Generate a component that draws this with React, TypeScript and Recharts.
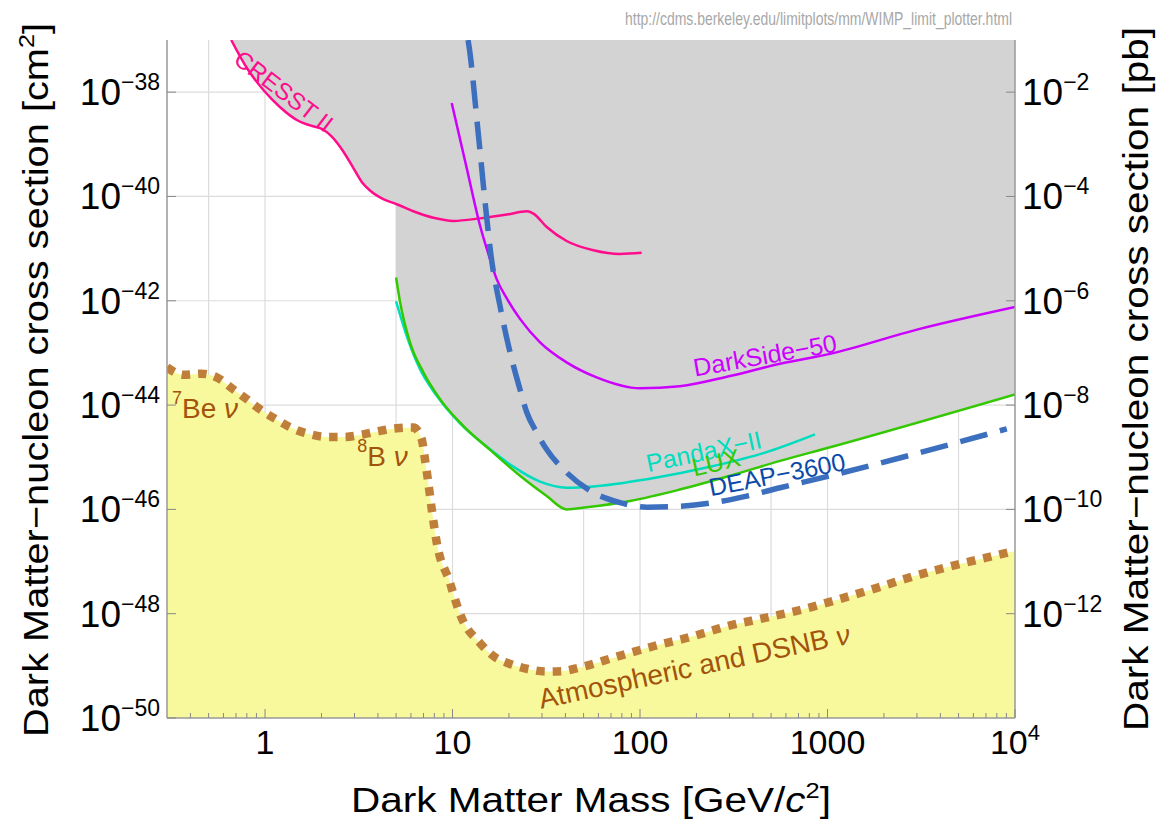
import React from 'react';
import {
  ComposedChart,
  Area,
  Line,
  XAxis,
  YAxis,
  CartesianGrid,
  ReferenceDot,
  Customized,
} from 'recharts';

type Pt = { m: number; s: number };

// mass in GeV/c^2, cross section in cm^2
const cresst: Pt[] = [
  { m: 0.66, s: 1.0e-37 }, { m: 0.8, s: 2.9e-38 }, { m: 0.98, s: 1.1e-38 }, { m: 1.2, s: 5.2e-39 },
  { m: 1.51, s: 2.8e-39 }, { m: 1.74, s: 2.3e-39 }, { m: 2.05, s: 1.9e-39 }, { m: 2.27, s: 1.4e-39 },
  { m: 2.62, s: 7.2e-40 }, { m: 2.96, s: 3.5e-40 }, { m: 3.28, s: 1.9e-40 }, { m: 3.63, s: 1.3e-40 },
  { m: 4.27, s: 8.9e-41 }, { m: 5.04, s: 7.1e-41 }, { m: 6.18, s: 5.2e-41 }, { m: 7.9, s: 3.9e-41 },
  { m: 10.1, s: 3.4e-41 }, { m: 14, s: 3.8e-41 }, { m: 19.5, s: 4.5e-41 }, { m: 24.9, s: 5.2e-41 },
  { m: 27, s: 4.7e-41 }, { m: 31.8, s: 2.6e-41 }, { m: 40.6, s: 1.4e-41 }, { m: 56.4, s: 9.3e-42 },
  { m: 78.2, s: 7.9e-42 }, { m: 102, s: 8.3e-42 },
];

const darkSide: Pt[] = [
  { m: 9.9, s: 6.2e-39 }, { m: 11.9, s: 3.5e-40 }, { m: 14.0, s: 2.8e-41 }, { m: 15.8, s: 6.5e-42 },
  { m: 17.2, s: 2.6e-42 }, { m: 19.5, s: 1.1e-42 }, { m: 22.9, s: 4.5e-43 }, { m: 29.3, s: 1.6e-43 },
  { m: 40.6, s: 6.6e-44 }, { m: 58.7, s: 3.4e-44 }, { m: 100, s: 2.1e-44 }, { m: 163, s: 2.3e-44 },
  { m: 302, s: 3.6e-44 }, { m: 558, s: 6.2e-44 }, { m: 1031, s: 9.6e-44 }, { m: 3000, s: 2.8e-43 },
  { m: 10000, s: 7.6e-43 },
];

const lux: Pt[] = [
  { m: 5.0, s: 2.8e-42 }, { m: 5.25, s: 9.5e-43 }, { m: 5.93, s: 1.6e-43 }, { m: 6.98, s: 4.3e-44 },
  { m: 8.58, s: 1.3e-44 }, { m: 11.4, s: 4.0e-45 }, { m: 15.8, s: 1.4e-45 }, { m: 22.9, s: 4.4e-46 },
  { m: 31.8, s: 1.8e-46 }, { m: 40.6, s: 1.0e-46 }, { m: 52, s: 1.1e-46 }, { m: 88.5, s: 1.45e-46 },
  { m: 163, s: 2.4e-46 }, { m: 302, s: 4.4e-46 }, { m: 558, s: 8.5e-46 }, { m: 1031, s: 1.55e-45 },
  { m: 10000, s: 1.6e-44 },
];

const pandax: Pt[] = [
  { m: 5.0, s: 9.8e-43 }, { m: 5.7, s: 2.1e-43 }, { m: 6.7, s: 4.9e-44 }, { m: 8.24, s: 1.5e-44 },
  { m: 11.0, s: 4.4e-45 }, { m: 15.2, s: 1.6e-45 }, { m: 21.1, s: 6.6e-46 }, { m: 29.3, s: 3.4e-46 },
  { m: 40.6, s: 2.6e-46 }, { m: 56.4, s: 2.75e-46 }, { m: 109, s: 3.8e-46 }, { m: 246, s: 6.8e-46 },
  { m: 455, s: 1.2e-45 }, { m: 858, s: 2.75e-45 },
];

const deap: Pt[] = [
  { m: 12.1, s: 1.0e-37 }, { m: 12.3, s: 6.8e-38 }, { m: 13.6, s: 2.2e-39 }, { m: 15.1, s: 5.1e-41 },
  { m: 16.0, s: 7.9e-42 }, { m: 17.9, s: 8.1e-43 }, { m: 20.3, s: 1.0e-43 }, { m: 22.9, s: 2.0e-44 },
  { m: 24.9, s: 7.2e-45 }, { m: 28.1, s: 3.0e-45 }, { m: 31.8, s: 1.4e-45 }, { m: 40.6, s: 5.1e-46 },
  { m: 56.4, s: 2.1e-46 }, { m: 78.2, s: 1.35e-46 }, { m: 109, s: 1.1e-46 }, { m: 163, s: 1.15e-46 },
  { m: 246, s: 1.35e-46 }, { m: 371, s: 1.8e-46 }, { m: 558, s: 2.6e-46 }, { m: 1031, s: 4.4e-46 },
  { m: 9040, s: 3.5e-45 },
];

const neutrinoFloor: Pt[] = [
  { m: 0.3, s: 5.3e-44 }, { m: 0.367, s: 3.8e-44 }, { m: 0.459, s: 4.0e-44 }, { m: 0.552, s: 3.4e-44 },
  { m: 0.678, s: 2.0e-44 }, { m: 0.799, s: 1.3e-44 }, { m: 0.94, s: 8.3e-45 }, { m: 1.15, s: 5.3e-45 },
  { m: 1.42, s: 3.5e-45 }, { m: 1.74, s: 2.75e-45 }, { m: 2.13, s: 2.45e-45 }, { m: 2.62, s: 2.45e-45 },
  { m: 3.34, s: 2.75e-45 }, { m: 4.1, s: 3.2e-45 }, { m: 5.04, s: 3.6e-45 }, { m: 6.18, s: 3.7e-45 },
  { m: 6.85, s: 2.2e-45 }, { m: 7.13, s: 9.1e-46 }, { m: 7.43, s: 3.2e-46 }, { m: 7.75, s: 1.0e-46 },
  { m: 8.24, s: 2.3e-47 }, { m: 9.7, s: 3.9e-48 }, { m: 10.1, s: 2.4e-48 }, { m: 11.1, s: 8.9e-49 },
  { m: 14.0, s: 2.75e-49 }, { m: 16.7, s: 1.5e-49 }, { m: 20.1, s: 1.1e-49 }, { m: 25.2, s: 8.7e-50 },
  { m: 31.6, s: 7.8e-50 }, { m: 38, s: 7.9e-50 }, { m: 47.7, s: 9.3e-50 }, { m: 75.2, s: 1.5e-49 },
  { m: 119, s: 2.4e-49 }, { m: 187, s: 3.6e-49 }, { m: 294, s: 5.8e-49 }, { m: 464, s: 8.3e-49 },
  { m: 732, s: 1.2e-48 }, { m: 1154, s: 1.9e-48 }, { m: 1818, s: 3.1e-48 }, { m: 2870, s: 5.2e-48 },
  { m: 4520, s: 8.1e-48 }, { m: 7125, s: 1.2e-47 }, { m: 10000, s: 1.6e-47 },
];

// ticks and grid
const massMajor = [1, 10, 100, 1000, 10000];
const massMinor = [
  0.4, 0.5, 0.6, 0.7, 0.8, 0.9, 2, 3, 4, 5, 6, 7, 8, 9, 20, 30, 40, 50, 60, 70, 80, 90,
  200, 300, 400, 500, 600, 700, 800, 900, 2000, 3000, 4000, 5000, 6000, 7000, 8000, 9000,
];
const sigmaTicks = [1e-50, 1e-48, 1e-46, 1e-44, 1e-42, 1e-40, 1e-38];
const pbTicks = [1e-12, 1e-10, 1e-8, 1e-6, 1e-4, 1e-2];
const gridMass = [0.5, 1, 5, 10, 50, 100, 500, 1000, 5000];
const gridSigma = [1e-48, 1e-46, 1e-44, 1e-42, 1e-40, 1e-38];

const C = {
  cresst: '#ff0c8c',
  darkSide: '#cc00ff',
  pandax: '#00dcbe',
  lux: '#33c800',
  deap: '#3d6fbf',
  deapText: '#0b4aa9',
  nu: '#bf7f3b',
  nuText: '#a3530c',
  excluded: '#d3d3d3',
  floor: '#f7f99c',
  axis: '#999999',
  grid: '#dcdcdc',
};

const MINUS = '\u2212';
const expOf = (v: number) => Math.round(Math.log10(v));
const cresstEdge = cresst.filter((p) => p.m <= 5.04);

function BottomTick({ x, y, payload }: any) {
  const v = payload.value;
  const major = massMajor.includes(v);
  return (
    <g>
      <line x1={x} y1={y} x2={x} y2={y - (major ? 9 : 5)} stroke="#888" />
      {major && (
        <text x={x} y={y + 36} textAnchor="middle" fontSize={34} fill="#000">
          {v < 10000 ? (
            String(v)
          ) : (
            <>
              10<tspan dy={-14} fontSize={22}>4</tspan>
            </>
          )}
        </text>
      )}
    </g>
  );
}

function TopTick({ x, y, payload }: any) {
  const major = massMajor.includes(payload.value);
  return <line x1={x} y1={y} x2={x} y2={y + (major ? 9 : 5)} stroke="#888" />;
}

function PowerLabel({ x, y, v, anchor }: { x: number; y: number; v: number; anchor: 'start' | 'end' }) {
  const e = expOf(v);
  return (
    <text x={x} y={y} textAnchor={anchor} fontSize={37} fill="#000">
      10<tspan dy={-15} fontSize={23}>{(e < 0 ? MINUS : '') + Math.abs(e)}</tspan>
    </text>
  );
}

function LeftTick({ x, y, payload }: any) {
  return (
    <g>
      <line x1={x} y1={y} x2={x + 9} y2={y} stroke="#888" />
      <PowerLabel x={x - 7} y={y + 13} v={payload.value} anchor="end" />
    </g>
  );
}

function RightTick({ x, y, payload }: any) {
  return (
    <g>
      <line x1={x} y1={y} x2={x - 9} y2={y} stroke="#888" />
      <PowerLabel x={x + 7} y={y + 13} v={payload.value} anchor="start" />
    </g>
  );
}

type Note = {
  m: number;
  s: number;
  angle: number;
  color: string;
  size: number;
  anchor: 'middle' | 'start';
  body: React.ReactNode;
};

const notes: Note[] = [
  { m: 1.26, s: 1.05e-38, angle: 37.5, color: C.cresst, size: 24, anchor: 'middle', body: 'CRESST II' },
  { m: 464, s: 9.1e-44, angle: -10, color: C.darkSide, size: 25, anchor: 'middle', body: `DarkSide${MINUS}50` },
  { m: 219, s: 1.3e-45, angle: -12, color: C.pandax, size: 25, anchor: 'middle', body: `PandaX${MINUS}II` },
  { m: 254, s: 8.0e-46, angle: -13, color: C.lux, size: 25, anchor: 'middle', body: 'LUX' },
  { m: 538, s: 4.7e-46, angle: -11, color: C.deapText, size: 25, anchor: 'middle', body: `DEAP${MINUS}3600` },
  {
    m: 195, s: 9.7e-50, angle: -12, color: C.nuText, size: 28, anchor: 'middle',
    body: (
      <>
        Atmospheric and DSNB <tspan fontStyle="italic">ν</tspan>
      </>
    ),
  },
  {
    m: 0.319, s: 5.6e-45, angle: 0, color: C.nuText, size: 28, anchor: 'start',
    body: (
      <>
        <tspan fontSize={18} dy={-14}>7</tspan>
        <tspan dy={14}>Be </tspan>
        <tspan fontStyle="italic">ν</tspan>
      </>
    ),
  },
  {
    m: 3.1, s: 6.7e-46, angle: 0, color: C.nuText, size: 28, anchor: 'start',
    body: (
      <>
        <tspan fontSize={18} dy={-14}>8</tspan>
        <tspan dy={14}>B </tspan>
        <tspan fontStyle="italic">ν</tspan>
      </>
    ),
  },
];

const noteShape = (n: Note) => (p: any) => (
  <text
    x={p.cx}
    y={p.cy}
    transform={n.angle ? `rotate(${n.angle} ${p.cx} ${p.cy})` : undefined}
    textAnchor={n.anchor}
    dominantBaseline={n.anchor === 'middle' ? 'central' : 'alphabetic'}
    fontSize={n.size}
    fill={n.color}
  >
    {n.body}
  </text>
);

function Titles() {
  return (
    <g>
      <text x={625} y={25} fontSize={19} fill="#a8a8a8" textLength={387} lengthAdjust="spacingAndGlyphs">
        http://cdms.berkeley.edu/limitplots/mm/WIMP_limit_plotter.html
      </text>
      <text x={351} y={812} fontSize={35} fill="#000" textLength={480} lengthAdjust="spacingAndGlyphs">
        Dark Matter Mass [GeV/<tspan fontStyle="italic">c</tspan>
        <tspan dy={-14} fontSize={22}>2</tspan>
        <tspan dy={14}>]</tspan>
      </text>
      <text
        transform="translate(48 737) rotate(-90)"
        x={0}
        y={0}
        fontSize={35}
        fill="#000"
        textLength={714}
        lengthAdjust="spacingAndGlyphs"
      >
        Dark Matter{MINUS}nucleon cross section [cm<tspan dy={-14} fontSize={22}>2</tspan>
        <tspan dy={14}>]</tspan>
      </text>
      <text
        transform="translate(1148 731) rotate(-90)"
        x={0}
        y={0}
        fontSize={35}
        fill="#000"
        textLength={704}
        lengthAdjust="spacingAndGlyphs"
      >
        Dark Matter{MINUS}nucleon cross section [pb]
      </text>
    </g>
  );
}

export default function App() {
  const massTicks = [...massMajor, ...massMinor].sort((a, b) => a - b);
  return (
    <div
      style={{
        position: 'absolute',
        left: 0,
        top: 0,
        width: 1165,
        height: 825,
        background: '#fff',
        fontFamily: '"Liberation Sans", Arial, Helvetica, sans-serif',
      }}
    >
      <ComposedChart width={1165} height={825} margin={{ top: 40, right: 0, bottom: 0, left: 0 }}>
        <CartesianGrid stroke={C.grid} strokeWidth={1.2} verticalValues={gridMass} horizontalValues={gridSigma} />
        <XAxis
          dataKey="m"
          type="number"
          scale="log"
          domain={[0.3, 10000]}
          allowDataOverflow
          ticks={massTicks}
          interval={0}
          tick={(p: any) => <BottomTick {...p} />}
          tickLine={false}
          tickSize={0}
          tickMargin={0}
          axisLine={{ stroke: C.axis, strokeWidth: 1.5 }}
          height={107}
        />
        <XAxis
          xAxisId="top"
          orientation="top"
          dataKey="m"
          type="number"
          scale="log"
          domain={[0.3, 10000]}
          allowDataOverflow
          ticks={massTicks}
          interval={0}
          tick={(p: any) => <TopTick {...p} />}
          tickLine={false}
          tickSize={0}
          tickMargin={0}
          axisLine={{ stroke: C.axis, strokeWidth: 1.5 }}
          height={0}
        />
        <YAxis
          type="number"
          scale="log"
          domain={[1e-50, 1e-37]}
          allowDataOverflow
          ticks={sigmaTicks}
          interval={0}
          tick={(p: any) => <LeftTick {...p} />}
          tickLine={false}
          tickSize={0}
          tickMargin={0}
          axisLine={{ stroke: C.axis, strokeWidth: 1.5 }}
          width={167}
        />
        <YAxis
          yAxisId="pb"
          orientation="right"
          type="number"
          scale="log"
          domain={[1e-14, 1e-1]}
          allowDataOverflow
          ticks={pbTicks}
          interval={0}
          tick={(p: any) => <RightTick {...p} />}
          tickLine={false}
          tickSize={0}
          tickMargin={0}
          axisLine={{ stroke: C.axis, strokeWidth: 1.5 }}
          width={150}
        />

        {/* excluded region above the limits */}
        <Area data={cresstEdge} dataKey="s" type="monotone" baseValue="dataMax" fill={C.excluded} fillOpacity={1} stroke="none" isAnimationActive={false} dot={false} activeDot={false} />
        <Area data={lux} dataKey="s" type="monotone" baseValue="dataMax" fill={C.excluded} fillOpacity={1} stroke="none" isAnimationActive={false} dot={false} activeDot={false} />
        {/* neutrino floor */}
        <Area data={neutrinoFloor} dataKey="s" type="monotone" baseValue="dataMin" fill={C.floor} fillOpacity={1} stroke="none" isAnimationActive={false} dot={false} activeDot={false} />

        <Line data={cresst} dataKey="s" type="monotone" stroke={C.cresst} strokeWidth={2.5} dot={false} activeDot={false} isAnimationActive={false} />
        <Line data={darkSide} dataKey="s" type="monotone" stroke={C.darkSide} strokeWidth={2.5} dot={false} activeDot={false} isAnimationActive={false} />
        <Line data={pandax} dataKey="s" type="monotone" stroke={C.pandax} strokeWidth={2.5} dot={false} activeDot={false} isAnimationActive={false} />
        <Line data={lux} dataKey="s" type="monotone" stroke={C.lux} strokeWidth={2.5} dot={false} activeDot={false} isAnimationActive={false} />
        <Line data={deap} dataKey="s" type="monotone" stroke={C.deap} strokeWidth={5.5} strokeDasharray="28 13" dot={false} activeDot={false} isAnimationActive={false} />
        <Line data={neutrinoFloor} dataKey="s" type="monotone" stroke={C.nu} strokeWidth={8.5} strokeDasharray="8.5 8" dot={false} activeDot={false} isAnimationActive={false} />

        {notes.map((n, i) => (
          <ReferenceDot key={i} x={n.m} y={n.s} r={1} ifOverflow="visible" shape={noteShape(n)} />
        ))}
        <Customized component={Titles} />
      </ComposedChart>
    </div>
  );
}
